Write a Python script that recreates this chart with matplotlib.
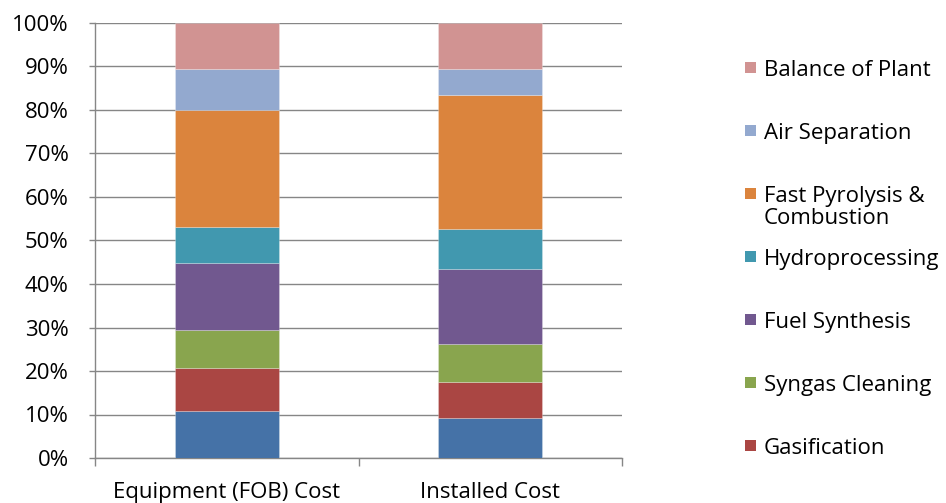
import matplotlib
matplotlib.use("Agg")
import matplotlib.pyplot as plt
from matplotlib.patches import Rectangle
from matplotlib.ticker import FixedLocator, PercentFormatter

categories = ["Equipment (FOB) Cost", "Installed Cost"]

# stacked shares (%), bottom to top
series_names = [
    "Feed Handling",
    "Gasification",
    "Syngas Cleaning",
    "Fuel Synthesis",
    "Hydroprocessing",
    "Fast Pyrolysis &\nCombustion",
    "Air Separation",
    "Balance of Plant",
]
feed_handling = [10.7, 9.2]
gasification = [10.1, 8.3]
syngas_cleaning = [8.7, 8.6]
fuel_synthesis = [15.4, 17.3]
hydroprocessing = [8.1, 9.2]
pyrolysis_combustion = [26.9, 30.9]
air_separation = [9.5, 5.9]
balance_of_plant = [10.6, 10.6]

values = [feed_handling, gasification, syngas_cleaning, fuel_synthesis,
          hydroprocessing, pyrolysis_combustion, air_separation, balance_of_plant]
colors = ["#4572A7", "#AA4643", "#89A54E", "#71588F",
          "#4198AF", "#DB843D", "#93A9CF", "#D19392"]

FONT = "Open Sans"
FS = 16
grid_c = "#868686"

fig = plt.figure(figsize=(9.46, 5.03), dpi=100)
ax = fig.add_axes([95 / 946, 45 / 503, 527 / 946, 435 / 503])

x = list(range(len(categories)))
bottom = [0.0] * len(categories)
for name, vals, c in zip(series_names, values, colors):
    ax.bar(x, vals, width=0.395, bottom=bottom, color=c,
           edgecolor=(1, 1, 1, 0.35), linewidth=0.5, zorder=3)
    bottom = [b + v for b, v in zip(bottom, vals)]

ax.set_xlim(-0.5, 1.5)
ax.set_ylim(0, 100)
ax.set_yticks(range(0, 101, 10))
ax.yaxis.set_major_formatter(PercentFormatter(decimals=0))
ax.grid(axis="y", color=grid_c, linewidth=1.0, zorder=0)

ax.xaxis.set_major_locator(FixedLocator([-0.5, 0.5, 1.5]))
ax.xaxis.set_minor_locator(FixedLocator(x))
ax.set_xticklabels([], minor=False)
ax.set_xticklabels(categories, minor=True)
ax.tick_params(axis="x", which="major", length=6, width=1.0, color=grid_c, direction="out")
ax.tick_params(axis="x", which="minor", length=0, pad=17)
ax.tick_params(axis="y", length=4, width=1.0, color=grid_c, pad=15)

for lab in ax.get_yticklabels() + ax.get_xticklabels(minor=True):
    lab.set_fontfamily(FONT)
    lab.set_fontsize(FS)
    lab.set_color("#000000")

for s in ["top", "right"]:
    ax.spines[s].set_visible(False)
for s in ["left", "bottom"]:
    ax.spines[s].set_color(grid_c)
    ax.spines[s].set_linewidth(1.0)

# legend entries, top to bottom (the last one falls outside the figure)
W, H = 946, 503
for i, (name, c) in enumerate(zip(series_names[::-1], colors[::-1])):
    ytop = 62 + 63 * i
    if ytop > H - 20:
        break
    fig.patches.append(Rectangle((745 / W, 1 - (ytop + 11) / H), 11 / W, 11 / H,
                                 transform=fig.transFigure, facecolor=c,
                                 edgecolor="none"))
    fig.text(764 / W, 1 - (ytop - 2) / H, name, ha="left", va="top",
             fontfamily=FONT, fontsize=FS, linespacing=1.06)

fig.savefig("out.png", dpi=100)
